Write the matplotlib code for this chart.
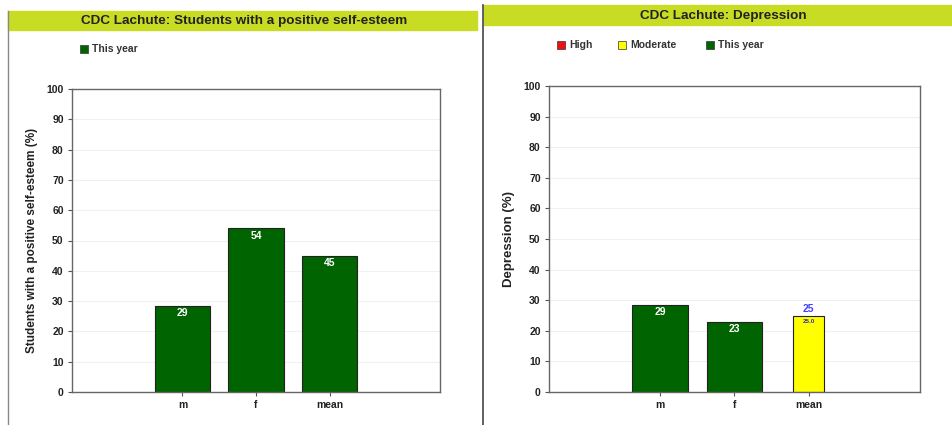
import matplotlib
matplotlib.use("Agg")
import matplotlib.pyplot as plt
from matplotlib.patches import Rectangle
from matplotlib.lines import Line2D

plt.rcParams['font.family'] = ['Liberation Sans', 'DejaVu Sans']
plt.rcParams['font.weight'] = 'bold'

# data
categories = ['m', 'f', 'mean']
esteem_vals = [28.5, 54, 45]
esteem_labels = ['29', '54', '45']
depr_vals = [28.5, 23, 25]
depr_labels = ['29', '23', '25']
depr_mean_label = '25.0'

W, H = 952, 425
fig = plt.figure(figsize=(W / 100, H / 100), dpi=100)

GREEN = '#006400'
BAR_TITLE = '#c9dc24'


def px(x, y, w, h):
    # pixel box (top-left origin) -> figure coords
    return [x / W, 1 - (y + h) / H, w / W, h / H]


def style_axes(ax, ylabel, lsize):
    ax.set_ylim(0, 100)
    ax.set_xlim(-1.5, 3.5)
    ax.set_yticks(range(0, 101, 10))
    ax.set_xticks(range(len(categories)))
    ax.set_xticklabels(categories)
    ax.tick_params(axis='both', labelsize=7.5, color='#555555', length=3, pad=3,
                   labelcolor='#222222')
    for lab in ax.get_xticklabels() + ax.get_yticklabels():
        lab.set_fontweight('bold')
    for s in ax.spines.values():
        s.set_color('#666666')
        s.set_linewidth(1)
    ax.grid(axis='y', color='#f0f0f0', linewidth=0.8)
    ax.set_axisbelow(True)
    ax.set_ylabel(ylabel, fontsize=lsize, fontweight='bold', labelpad=6, color='#222222')


# figure decorations: title bars and panel borders
fig.patches.append(Rectangle((8 / W, 1 - 30 / H), 469 / W, 19 / H,
                             transform=fig.transFigure, color=BAR_TITLE, zorder=0))
fig.patches.append(Rectangle((484 / W, 1 - 25 / H), 468 / W, 20 / H,
                             transform=fig.transFigure, color=BAR_TITLE, zorder=0))
fig.lines.append(Line2D([8 / W, 8 / W], [0, 1 - 11 / H], transform=fig.transFigure,
                        color='#888888', linewidth=1))
fig.lines.append(Line2D([483 / W, 483 / W], [0, 1 - 5 / H], transform=fig.transFigure,
                        color='#444444', linewidth=1.2))
fig.text(244 / W, 1 - 21 / H, 'CDC Lachute: Students with a positive self-esteem',
         ha='center', va='center', fontsize=9.7, fontweight='bold', color='#222222')
fig.text(723 / W, 1 - 16 / H, 'CDC Lachute: Depression',
         ha='center', va='center', fontsize=9.7, fontweight='bold', color='#222222')

# legends (drawn as small squares + text)
def legend_item(x, y, color, text):
    fig.patches.append(Rectangle((x / W, 1 - (y + 4) / H), 8 / W, 8 / H,
                                 transform=fig.transFigure, facecolor=color,
                                 edgecolor='#333333', linewidth=0.5))
    fig.text((x + 12) / W, 1 - y / H, text, ha='left', va='center',
             fontsize=7.5, fontweight='bold', color='#333333')

legend_item(80, 49, GREEN, 'This year')
legend_item(557, 45, '#ee1111', 'High')
legend_item(618, 45, '#ffff00', 'Moderate')
legend_item(706, 45, GREEN, 'This year')

# left chart
ax1 = fig.add_axes(px(72, 89, 368, 303))
style_axes(ax1, 'Students with a positive self-esteem (%)', 8.5)
bars = ax1.bar(range(len(categories)), esteem_vals, width=0.75, color=GREEN,
               edgecolor='#222222', linewidth=0.8)
for b, lab in zip(bars, esteem_labels):
    ax1.text(b.get_x() + b.get_width() / 2, b.get_height() - 2.5, lab,
             ha='center', va='center', color='white', fontsize=7.5, fontweight='bold')

# right chart
ax2 = fig.add_axes(px(549, 86, 371, 306))
style_axes(ax2, 'Depression (%)', 9.5)
colors = [GREEN, GREEN, '#ffff00']
widths = [0.75, 0.75, 0.42]
bars = ax2.bar(range(len(categories)), depr_vals, width=widths, color=colors,
               edgecolor='#222222', linewidth=0.8)
for i, (b, lab) in enumerate(zip(bars, depr_labels)):
    cx = b.get_x() + b.get_width() / 2
    if i < 2:
        ax2.text(cx, b.get_height() - 2.5, lab, ha='center', va='center',
                 color='white', fontsize=7.5, fontweight='bold')
    else:
        ax2.text(cx, b.get_height() + 2, lab, ha='center', va='center',
                 color='#4444ff', fontsize=7.5, fontweight='bold')
        ax2.text(cx, b.get_height() - 1.8, depr_mean_label, ha='center', va='center',
                 color='#3333aa', fontsize=4.5, fontweight='bold')

fig.savefig('out.png', dpi=100, facecolor='white')
